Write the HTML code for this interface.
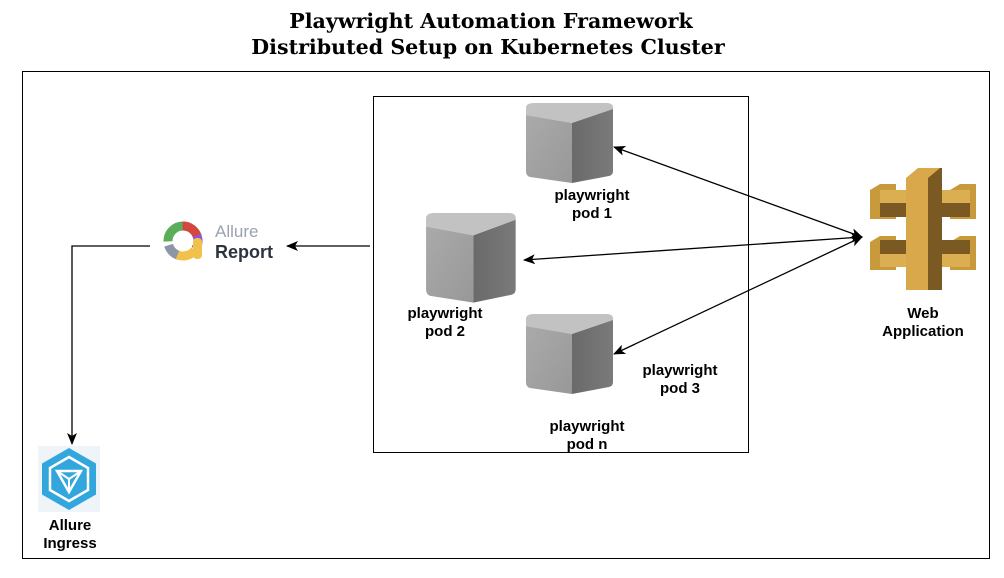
<!DOCTYPE html>
<html><head><style>
body{margin:0;background:#fff;width:1004px;height:578px;overflow:hidden}
svg{display:block}
text{font-family:"Liberation Sans",Arial,sans-serif;font-weight:bold;font-size:15px;fill:#000}
</style></head><body>
<svg width="1004" height="578" viewBox="0 0 1004 578" xmlns="http://www.w3.org/2000/svg">
<defs>
<marker id="ah" markerWidth="12" markerHeight="10" refX="11" refY="5" orient="auto-start-reverse" markerUnits="userSpaceOnUse">
<path d="M0,0 L12,5 L0,10 L3,5 z" fill="#000"/></marker>
<linearGradient id="fr" x1="0" y1="0" x2="1" y2="1"><stop offset="0" stop-color="#aaaaaa"/><stop offset="1" stop-color="#989898"/></linearGradient>
<linearGradient id="rt" x1="0" y1="0" x2="1" y2="0"><stop offset="0" stop-color="#6a6a6a"/><stop offset="1" stop-color="#7a7a7a"/></linearGradient>
<g id="cube">
<path d="M2,4 Q3,0 10,0 L84,0 Q90,1 89,6 L48,20 L2,12 Z" fill="#c2c2c2"/>
<path d="M2,12 L48,20 L48,80 L6,74 Q2,73 2,68 Z" fill="url(#fr)"/>
<path d="M48,20 L89,6 L89,68 Q89,72 85,73 L48,80 Z" fill="url(#rt)"/>
</g>
</defs>
<text x="491" y="28" text-anchor="middle" style="font-family:'DejaVu Serif',serif;font-size:20.6px">Playwright Automation Framework</text>
<text x="488" y="54" text-anchor="middle" style="font-family:'DejaVu Serif',serif;font-size:20.6px">Distributed Setup on Kubernetes Cluster</text>
<rect x="22.5" y="71.5" width="967" height="487" fill="none" stroke="#000" stroke-width="1"/>
<rect x="373.5" y="96.5" width="375" height="356" fill="none" stroke="#000" stroke-width="1"/>

<use href="#cube" transform="translate(524,103)"/>
<use href="#cube" transform="translate(424,213) scale(1.03,1.12)"/>
<use href="#cube" transform="translate(524,314)"/>

<text x="592" y="200" text-anchor="middle">playwright</text>
<text x="592" y="218" text-anchor="middle">pod 1</text>
<text x="445" y="318" text-anchor="middle">playwright</text>
<text x="445" y="336" text-anchor="middle">pod 2</text>
<text x="680" y="375" text-anchor="middle">playwright</text>
<text x="680" y="393" text-anchor="middle">pod 3</text>
<text x="587" y="431" text-anchor="middle">playwright</text>
<text x="587" y="449" text-anchor="middle">pod n</text>

<g stroke="#000" stroke-width="1.3" fill="none">
<line x1="614" y1="147" x2="862" y2="237" marker-start="url(#ah)" marker-end="url(#ah)"/>
<line x1="524" y1="260" x2="862" y2="237" marker-start="url(#ah)" marker-end="url(#ah)"/>
<line x1="614" y1="354" x2="862" y2="237" marker-start="url(#ah)" marker-end="url(#ah)"/>
<line x1="370" y1="246" x2="287" y2="246" marker-end="url(#ah)"/>
<polyline points="150,246 72,246 72,444" marker-end="url(#ah)"/>
</g>

<g>
<polygon points="870,190 880,184 896,184 896,219 870,219" fill="#c99a3b"/>
<polygon points="950,190 960,184 976,184 976,219 950,219" fill="#c99a3b"/>
<polygon points="870,242 880,236 896,236 896,270 870,270" fill="#c99a3b"/>
<polygon points="950,242 960,236 976,236 976,270 950,270" fill="#c99a3b"/>
<rect x="880" y="203" width="90" height="14" fill="#7a5a22"/>
<rect x="880" y="240" width="90" height="14" fill="#7a5a22"/>
<rect x="880" y="190" width="90" height="13" fill="#dcae52"/>
<rect x="880" y="254" width="90" height="13" fill="#dcae52"/>
<polygon points="906,178 918,168 940,168 940,290 906,290" fill="#d9a84a"/>
<polygon points="928,178 940,168 942,168 942,290 928,290" fill="#7a5a22"/>
</g>
<text x="923" y="318" text-anchor="middle">Web</text>
<text x="923" y="336" text-anchor="middle">Application</text>

<g transform="translate(183,241)">
<circle r="15" fill="none" stroke="#5aae59" stroke-width="9" stroke-dasharray="30 70" transform="rotate(180)" pathLength="100"/>
<circle r="15" fill="none" stroke="#d2473f" stroke-width="9" stroke-dasharray="20 80" transform="rotate(-90)" pathLength="100"/>
<circle r="15" fill="none" stroke="#8a57d8" stroke-width="9" stroke-dasharray="15 85" transform="rotate(-20)" pathLength="100"/>
<circle r="15" fill="none" stroke="#8c96a6" stroke-width="9" stroke-dasharray="15 85" transform="rotate(110)" pathLength="100"/>
<circle r="15" fill="none" stroke="#f0c24b" stroke-width="9" stroke-dasharray="20 80" transform="rotate(40)" pathLength="100"/>
<rect x="10" y="-3" width="9" height="21" rx="4" fill="#f0c24b"/>
</g>
<text x="215" y="237" style="font-weight:normal;font-size:17px;fill:#9aa2b0">Allure</text>
<text x="215" y="258" style="font-size:18px;fill:#2c3440">Report</text>

<g transform="translate(69,479)">
<rect x="-31" y="-33" width="62" height="66" fill="#eef4f8"/>
<polygon points="0,-31 27,-15.5 27,15.5 0,31 -27,15.5 -27,-15.5" fill="#33a6dd"/>
<polygon points="0,-22 19,-11 19,11 0,22 -19,11 -19,-11" fill="none" stroke="#fff" stroke-width="2.5"/>
<polygon points="-12,-8 12,-8 0,13" fill="none" stroke="#fff" stroke-width="2.5"/>
<line x1="0" y1="0" x2="0" y2="13" stroke="#fff" stroke-width="2"/>
<line x1="0" y1="0" x2="-12" y2="-8" stroke="#fff" stroke-width="2"/>
<line x1="0" y1="0" x2="12" y2="-8" stroke="#fff" stroke-width="2"/>
</g>
<text x="70" y="530" text-anchor="middle">Allure</text>
<text x="70" y="548" text-anchor="middle">Ingress</text>
</svg>
</body></html>
